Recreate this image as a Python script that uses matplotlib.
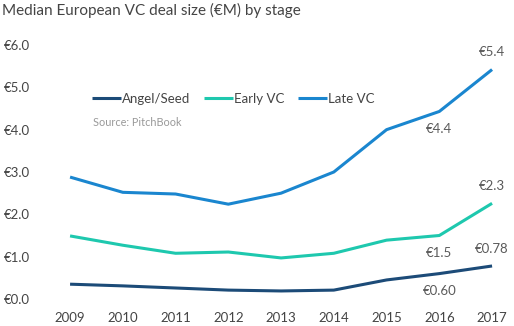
import matplotlib
matplotlib.use("Agg")
import matplotlib.pyplot as plt

plt.rcParams['font.family'] = ['Lato', 'DejaVu Sans']

years = [2009, 2010, 2011, 2012, 2013, 2014, 2015, 2016, 2017]
angel_seed = [0.35, 0.31, 0.26, 0.21, 0.19, 0.21, 0.45, 0.60, 0.78]
early_vc = [1.49, 1.27, 1.08, 1.11, 0.97, 1.08, 1.39, 1.50, 2.26]
late_vc = [2.88, 2.52, 2.48, 2.24, 2.50, 3.00, 4.00, 4.43, 5.42]

yticks = [0, 1, 2, 3, 4, 5, 6]
ytick_labels = ['€0.0', '€1.0', '€2.0', '€3.0', '€4.0', '€5.0', '€6.0']

# value labels: (series, year index, text, above?)
point_labels = [
    (late_vc, 8, '€5.4', True),
    (late_vc, 7, '€4.4', False),
    (early_vc, 8, '€2.3', True),
    (early_vc, 7, '€1.5', False),
    (angel_seed, 8, '€0.78', True),
    (angel_seed, 7, '€0.60', False),
]

c_angel = '#1c4b78'
c_early = '#1ec8ae'
c_late = '#1a86cf'
txt = '#444444'

fig = plt.figure(figsize=(5.14, 3.26), dpi=100)
ax = fig.add_axes([40 / 514, 27 / 326, 470 / 514, 254 / 326])

ax.plot(years, angel_seed, color=c_angel, lw=2.2, label='Angel/Seed', solid_capstyle='butt')
ax.plot(years, early_vc, color=c_early, lw=2.2, label='Early VC', solid_capstyle='butt')
ax.plot(years, late_vc, color=c_late, lw=2.2, label='Late VC', solid_capstyle='butt')

for series, i, label, above in point_labels:
    ax.annotate(label, (years[i], series[i]),
                xytext=(0, 8 if above else -8), textcoords='offset points',
                ha='center', va='bottom' if above else 'top',
                fontsize=9.5, color='#5a5a5a')

ax.set_xlim(2008.43, 2017.34)
ax.set_ylim(0, 6)
ax.set_xticks(years)
ax.set_xticklabels([str(y) for y in years])
ax.set_yticks(yticks)
ax.set_yticklabels(ytick_labels)
ax.tick_params(length=0, labelsize=9.5, labelcolor=txt)
ax.tick_params(axis='x', pad=9)
ax.tick_params(axis='y', pad=7)
for s in ax.spines.values():
    s.set_visible(False)

ax.legend(loc='upper left', bbox_to_anchor=(80 / 514, 1 - 81 / 326), bbox_transform=fig.transFigure,
          ncol=3, frameon=False, fontsize=9.5, handlelength=2.2, handletextpad=0.1,
          columnspacing=1.0, labelcolor=txt)

fig.text(93 / 514, 1 - 122 / 326, 'Source: PitchBook',
         fontsize=7.8, color='#999999', va='center', ha='left')

fig.text(2 / 514, 1 - 10 / 326, 'Median European VC deal size (€M) by stage',
         fontsize=11, color='#444444', va='center', ha='left')

fig.savefig('out.png', dpi=100)
